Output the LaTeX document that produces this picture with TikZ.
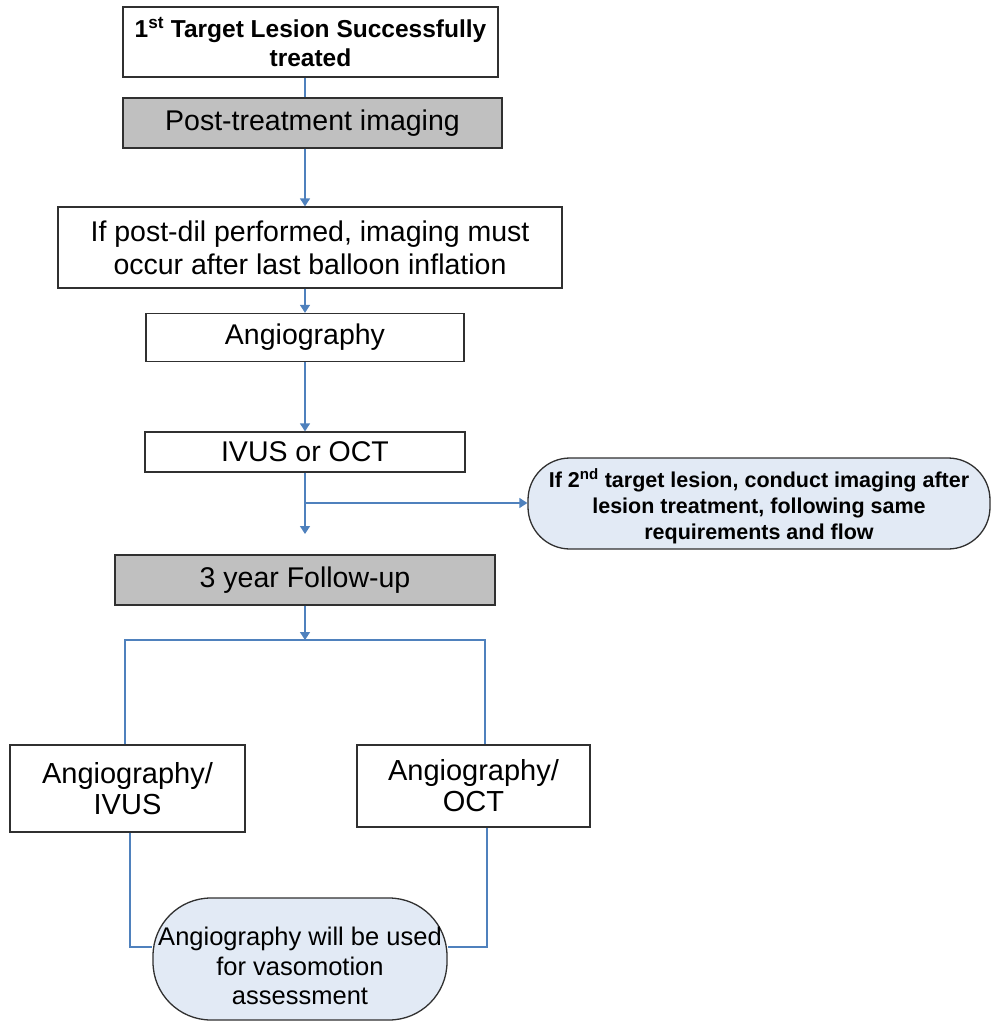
\documentclass[tikz,border=0pt]{standalone}
\usepackage{fontspec}
\setmainfont{Liberation Sans}
\usetikzlibrary{arrows.meta,calc}
\definecolor{conn}{HTML}{4F81BD}
\definecolor{boxline}{HTML}{303030}
\definecolor{grayfill}{HTML}{C0C0C0}
\definecolor{bluefill}{HTML}{E2EAF5}
\tikzset{
  flowbox/.style={draw=boxline,line width=1.3pt,fill=white,inner sep=0pt,align=center,font=\fontsize{28.5}{33}\selectfont},
  graybox/.style={flowbox,fill=grayfill},
  notebox/.style={draw=boxline,line width=1.3pt,fill=bluefill,inner sep=0pt,align=center},
  link/.style={draw=conn,line width=1.4pt},
  arrowlink/.style={link,-{Triangle[width=10pt,length=8pt]}}
}
\begin{document}
\begin{tikzpicture}[x=1pt,y=-1pt]
\useasboundingbox (0,0) rectangle (990,1022);
\coordinate (axis) at (305,0);
\node[flowbox,minimum width=375pt,minimum height=70pt,font=\bfseries\fontsize{24.5}{29}\selectfont] (b1) at (310.5,42) {1\textsuperscript{st} Target Lesion Successfully\\treated};
\node[graybox,minimum width=379pt,minimum height=50pt] (b2) at (312.5,123) {Post-treatment imaging};
\node[flowbox,minimum width=504pt,minimum height=81pt] (b3) at (310,247.5) {If post-dil performed, imaging must\\occur after last balloon inflation};
\node[flowbox,minimum width=318pt,minimum height=48pt] (b4) at (305,337.5) {Angiography};
\node[flowbox,minimum width=320pt,minimum height=40pt] (b5) at (305,452) {IVUS or OCT};
\node[notebox,minimum width=462pt,minimum height=91pt,rounded corners=42pt,
  label={[yshift=-3pt,align=center,font=\bfseries\fontsize{21.5}{26}\selectfont]center:{If 2\textsuperscript{nd} target lesion, conduct imaging after\\lesion treatment, following same\\requirements and flow}}] (note) at (759,503.5) {};
\node[graybox,minimum width=380pt,minimum height=50pt] (b6) at (305,580) {3 year Follow-up};
\node[flowbox,minimum width=235pt,minimum height=87pt,font=\fontsize{29}{31}\selectfont] (b7) at (127.5,788.5) {Angiography/\\IVUS};
\node[flowbox,minimum width=233pt,minimum height=82pt,font=\fontsize{29}{31}\selectfont] (b8) at (473.5,786) {Angiography/\\OCT};
\node[notebox,minimum width=294pt,minimum height=122pt,rounded corners=58pt,
  label={[yshift=-7pt,align=center,font=\fontsize{25.5}{29.5}\selectfont]center:{Angiography will be used\\for vasomotion\\assessment}}] (end) at (300,959) {};
\coordinate (stop) at (305,534);
\coordinate (branch) at (305,503);
\coordinate (bar) at (305,640);
\coordinate (lx) at (125,640);
\coordinate (rx) at (485,640);
\coordinate (lb) at (130,947);
\coordinate (rb) at (487,947);
\draw[link] (b1.south -| axis) -- (b2.north -| axis);
\draw[arrowlink] (b2.south -| axis) -- (b3.north -| axis);
\draw[arrowlink] (b3.south -| axis) -- (b4.north -| axis);
\draw[arrowlink] (b4.south -| axis) -- (b5.north -| axis);
\draw[arrowlink] (b5.south -| axis) -- (stop);
\draw[arrowlink] (branch) -- (branch -| note.west);
\draw[arrowlink] (b6.south -| axis) -- (bar);
\draw[link] (b7.north -| lx) -- (lx) -- (rx) -- (b8.north -| rx);
\draw[link] (b7.south -| lb) -- (lb) -- (end.west |- lb);
\draw[link] (b8.south -| rb) -- (rb) -- (end.east |- rb);
\end{tikzpicture}
\end{document}
